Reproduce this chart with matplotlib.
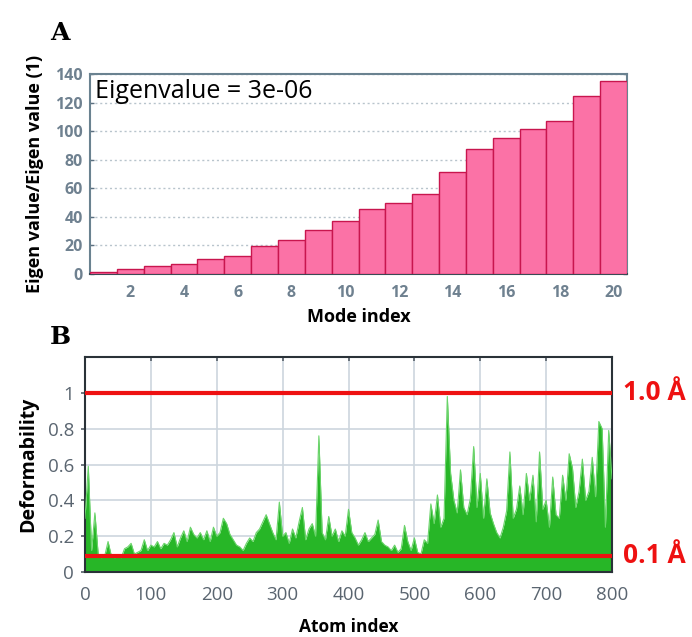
import numpy as np
import matplotlib
matplotlib.use("Agg")
import matplotlib.pyplot as plt

# ---- Panel A data ----
modes = list(range(1, 21))
eigen_ratio = [1.6, 3.3, 5.6, 7.0, 10.3, 12.6, 19.6, 23.8, 30.8, 36.9,
               45.3, 49.5, 56.0, 71.2, 87.3, 95.4, 101.7, 107.3, 124.6, 134.9]
a_xticks = [2, 4, 6, 8, 10, 12, 14, 16, 18, 20]
a_yticks = [0, 20, 40, 60, 80, 100, 120, 140]

# ---- Panel B data (deformability sampled every 5 atoms) ----
atom_index = list(range(0, 801, 5))
deformability = [
    0.30, 0.59, 0.12, 0.33, 0.10, 0.08, 0.09, 0.17, 0.09, 0.08,
    0.09, 0.08, 0.13, 0.14, 0.16, 0.10, 0.11, 0.12, 0.18, 0.12,
    0.15, 0.14, 0.17, 0.13, 0.16, 0.15, 0.18, 0.22, 0.14, 0.19,
    0.23, 0.17, 0.25, 0.21, 0.19, 0.22, 0.18, 0.23, 0.17, 0.25,
    0.20, 0.22, 0.30, 0.27, 0.21, 0.18, 0.15, 0.14, 0.12, 0.16,
    0.19, 0.17, 0.22, 0.24, 0.28, 0.32, 0.27, 0.22, 0.18, 0.39,
    0.20, 0.22, 0.16, 0.24, 0.19, 0.28, 0.36, 0.18, 0.24, 0.27,
    0.20, 0.76, 0.22, 0.18, 0.31, 0.20, 0.24, 0.17, 0.23, 0.20,
    0.35, 0.22, 0.19, 0.15, 0.18, 0.22, 0.17, 0.19, 0.21, 0.29,
    0.17, 0.15, 0.14, 0.12, 0.15, 0.11, 0.13, 0.26, 0.17, 0.12,
    0.19, 0.11, 0.10, 0.18, 0.16, 0.38, 0.27, 0.43, 0.25, 0.30,
    0.98, 0.55, 0.40, 0.33, 0.57, 0.36, 0.32, 0.41, 0.70, 0.36,
    0.55, 0.30, 0.52, 0.33, 0.27, 0.22, 0.19, 0.25, 0.34, 0.67,
    0.30, 0.35, 0.48, 0.32, 0.55, 0.40, 0.54, 0.28, 0.67, 0.35,
    0.40, 0.25, 0.53, 0.32, 0.30, 0.54, 0.40, 0.66, 0.58, 0.36,
    0.45, 0.63, 0.40, 0.45, 0.64, 0.42, 0.84, 0.80, 0.25, 0.79,
    0.52,
]
b_xticks = [0, 100, 200, 300, 400, 500, 600, 700, 800]
b_yticks = [0, 0.2, 0.4, 0.6, 0.8, 1.0]
b_yticklabels = ["0", "0.2", "0.4", "0.6", "0.8", "1"]
thresholds = [1.0, 0.09]
threshold_labels = ["1.0 Å", "0.1 Å"]

plt.rcParams['font.family'] = ['Open Sans', 'DejaVu Sans']

fig = plt.figure(figsize=(6.92, 6.37), dpi=100)

# ---------------- Panel A ----------------
axA = fig.add_axes([90/692, 1-274/637, 537/692, 200/637])
axA.bar(modes, eigen_ratio, width=1.0, color='#fb72a6', edgecolor='#c8164e', linewidth=1.0, zorder=3)
axA.set_xlim(0.5, 20.5)
axA.set_ylim(0, 140)
axA.set_xticks(a_xticks)
axA.set_yticks(a_yticks)
axA.yaxis.grid(True, linestyle=(0, (1.5, 2)), color='#b8c4cc', linewidth=1.0, zorder=0)
axA.tick_params(axis='both', labelsize=11.5, colors='#5c7080', length=3, width=1)
axA.tick_params(axis='y', right=True, direction='in', pad=5)
axA.tick_params(axis='x', length=0, pad=8)
for lab in axA.get_xticklabels() + axA.get_yticklabels():
    lab.set_fontweight('bold')
    lab.set_color('#6f8190')
for s in axA.spines.values():
    s.set_color('#6a8290')
    s.set_linewidth(1.5)
axA.spines['bottom'].set_color('#3a4a55')
axA.set_xlabel('Mode index', fontsize=13, fontweight='bold', labelpad=5)
axA.set_ylabel('Eigen value/Eigen value (1)', fontsize=13, fontweight='bold', labelpad=8)
axA.text(0.009, 0.975, 'Eigenvalue = 3e-06', transform=axA.transAxes, fontsize=18,
         ha='left', va='top', color='black', zorder=5)
fig.text(60/692, 1-33/637, 'A', family='DejaVu Serif', fontsize=18, fontweight='bold', ha='center', va='center')

# ---------------- Panel B ----------------
axB = fig.add_axes([85/692, 1-572/637, 527/692, 215/637])
x = np.array(atom_index)
y = np.array(deformability)
axB.fill_between(x, 0, y, color='#27b627', linewidth=0, zorder=2)
axB.plot(x, y, color='#6ad46a', linewidth=0.8, zorder=3)
for t in thresholds:
    axB.axhline(t, color='#ee1111', linewidth=3, zorder=4)
axB.set_xlim(0, 800)
axB.set_ylim(0, 1.2)
axB.set_xticks(b_xticks)
axB.set_yticks(b_yticks)
axB.set_yticklabels(b_yticklabels)
axB.grid(True, color='#cdd6de', linewidth=1.2, zorder=0)
axB.set_axisbelow(True)
axB.tick_params(axis='both', labelsize=13.5, colors='#555f68', length=3, width=1.2)
axB.tick_params(axis='x', top=True, direction='in', length=3)
axB.tick_params(axis='x', pad=10)
axB.tick_params(axis='y', pad=5)
for lab in axB.get_xticklabels() + axB.get_yticklabels():
    lab.set_color('#5a6570')
for s in axB.spines.values():
    s.set_color('#2a3238')
    s.set_linewidth(1.5)
axB.set_xlabel('Atom index', fontsize=12.5, fontweight='bold', labelpad=10)
axB.set_ylabel('Deformability', fontsize=14, fontweight='bold', labelpad=7)
for t, lbl in zip(thresholds, threshold_labels):
    axB.annotate(lbl, xy=(1.0, t), xycoords=('axes fraction', 'data'),
                 xytext=(8, 0), textcoords='offset points',
                 fontsize=19, fontweight='bold', color='#ee1111', ha='left', va='center',
                 annotation_clip=False)
fig.text(60/692, 1-337/637, 'B', family='DejaVu Serif', fontsize=18, fontweight='bold', ha='center', va='center')

fig.savefig('out.png', dpi=100, facecolor='white')
